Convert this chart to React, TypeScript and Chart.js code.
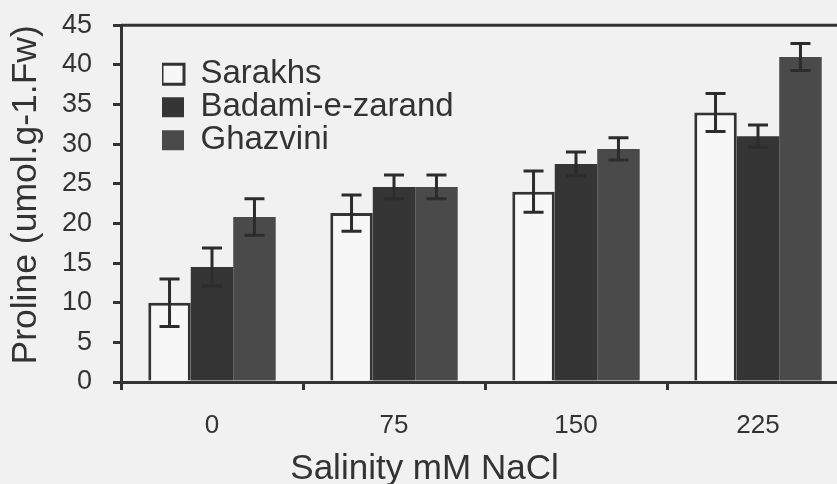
import React, { useEffect, useRef } from "react";
import { Chart, registerables } from "chart.js";

Chart.register(...registerables);

const categories = ["0", "75", "150", "225"];
const seriesNames = ["Sarakhs", "Badami-e-zarand", "Ghazvini"];
const sarakhs = [10, 21.3, 24, 34];
const badami = [14.5, 24.6, 27.5, 31];
const ghazvini = [20.8, 24.6, 29.4, 41];
const sarakhsErr = [3, 2.3, 2.6, 2.4];
const badamiErr = [2.4, 1.5, 1.5, 1.4];
const ghazviniErr = [2.3, 1.5, 1.4, 1.7];
const yTitle = "Proline (umol.g-1.Fw)";
const xTitle = "Salinity mM NaCl";

const INK = "#333333";
const BG = "#f1f1f1";
const FONT = "'Liberation Sans', Arial, sans-serif";

const errors = [sarakhsErr, badamiErr, ghazviniErr];

const errorBarPlugin = {
  id: "errorBars",
  afterDatasetsDraw(chart: any) {
    const ctx = chart.ctx;
    const yScale = chart.scales.y;
    ctx.save();
    ctx.strokeStyle = "#2c2c2c";
    ctx.lineWidth = 3;
    chart.data.datasets.forEach((ds: any, i: number) => {
      const meta = chart.getDatasetMeta(i);
      meta.data.forEach((bar: any, j: number) => {
        const v = ds.data[j];
        const e = errors[i][j];
        const x = bar.x;
        const yt = yScale.getPixelForValue(v + e);
        const yb = yScale.getPixelForValue(v - e);
        const cap = 10;
        ctx.beginPath();
        ctx.moveTo(x, yt);
        ctx.lineTo(x, yb);
        ctx.moveTo(x - cap, yt);
        ctx.lineTo(x + cap, yt);
        ctx.moveTo(x - cap, yb);
        ctx.lineTo(x + cap, yb);
        ctx.stroke();
      });
    });
    ctx.restore();
  },
};

const framePlugin = {
  id: "frameTop",
  afterDraw(chart: any) {
    const { ctx, chartArea } = chart;
    ctx.save();
    ctx.strokeStyle = INK;
    ctx.lineWidth = 3;
    ctx.beginPath();
    ctx.moveTo(chartArea.left, chartArea.top);
    ctx.lineTo(chartArea.right, chartArea.top);
    ctx.stroke();
    ctx.restore();
  },
};

const legendPlacePlugin = {
  id: "legendPlace",
  afterLayout(chart: any) {
    const lg = chart.legend;
    const ca = chart.chartArea;
    if (!lg) return;
    lg.left = ca.left + 41;
    lg.top = ca.top + 32.5;
    lg.right = ca.right;
    lg.bottom = ca.bottom;
  },
};

export default function App() {
  const ref = useRef<HTMLCanvasElement | null>(null);
  useEffect(() => {
    if (!ref.current) return;
    const chart = new Chart(ref.current, {
      type: "bar",
      data: {
        labels: categories,
        datasets: [
          {
            label: seriesNames[0],
            data: sarakhs,
            backgroundColor: "#f7f7f7",
            borderColor: INK,
            borderWidth: 3,
            borderSkipped: "bottom",
          },
          {
            label: seriesNames[1],
            data: badami,
            backgroundColor: "#353535",
            borderWidth: 0,
          },
          {
            label: seriesNames[2],
            data: ghazvini,
            backgroundColor: "#4a4a4a",
            borderWidth: 0,
          },
        ],
      },
      options: {
        responsive: false,
        animation: false,
        layout: { padding: { top: 25, left: 0, right: 0, bottom: 0 } },
        datasets: {
          bar: { categoryPercentage: 0.7, barPercentage: 1 },
        },
        plugins: {
          tooltip: { enabled: false },
          title: {
            display: true,
            position: "bottom",
            fullSize: true,
            text: xTitle,
            color: INK,
            font: { family: FONT, size: 35, lineHeight: 1, weight: "normal" },
            padding: { top: 0, bottom: -2.5 },
          },
          legend: {
            position: "chartArea",
            fullSize: false,
            align: "start",
            labels: {
              boxWidth: 22,
              boxHeight: 20,
              padding: 0,
              color: INK,
              font: { family: FONT, size: 33 },
            },
          },
        },
        scales: {
          x: {
            afterFit(scale: any) {
              scale.height = 69.5;
            },
            grid: {
              drawOnChartArea: false,
              drawTicks: true,
              tickLength: 8,
              color: INK,
              lineWidth: 3,
              offset: true,
            },
            border: { display: true, color: INK, width: 3 },
            ticks: {
              color: INK,
              padding: 20,
              font: { family: FONT, size: 26 },
            },
          },
          y: {
            min: 0,
            max: 45,
            afterFit(scale: any) {
              scale.width = 121;
            },
            ticks: {
              stepSize: 5,
              color: INK,
              padding: 21,
              font: { family: FONT, size: 27 },
            },
            grid: {
              drawOnChartArea: false,
              drawTicks: true,
              tickLength: 8,
              color: INK,
              lineWidth: 3,
            },
            border: { display: true, color: INK, width: 3 },
            title: {
              display: true,
              text: yTitle,
              align: "end",
              color: INK,
              font: { family: FONT, size: 35.5, lineHeight: 1.2 },
              padding: { top: 5, bottom: 0 },
            },
          },
        },
      },
      plugins: [errorBarPlugin, framePlugin, legendPlacePlugin],
    } as any);
    return () => chart.destroy();
  }, []);

  return (
    <div
      style={{
        position: "fixed",
        left: 0,
        top: 0,
        width: 837,
        height: 484,
        overflow: "hidden",
        background: BG,
      }}
    >
      <canvas
        ref={ref}
        width={849}
        height={496}
        style={{ display: "block", marginTop: -12 }}
      />
    </div>
  );
}
